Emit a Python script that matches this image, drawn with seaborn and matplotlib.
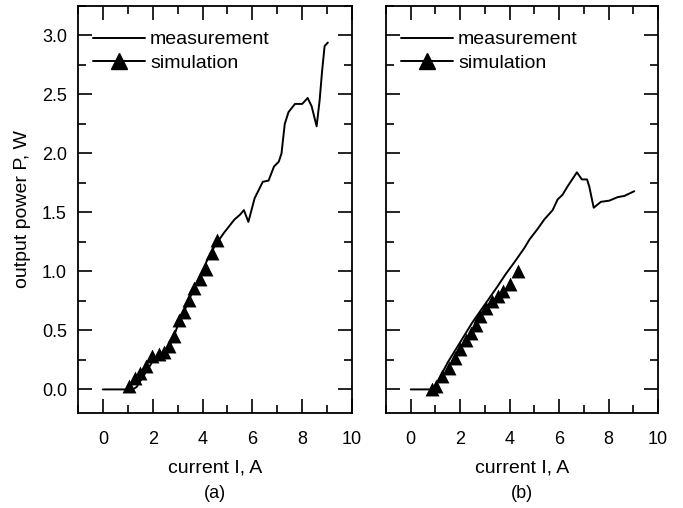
import matplotlib
matplotlib.use("Agg")
import matplotlib.pyplot as plt
from matplotlib.lines import Line2D
from matplotlib.ticker import MultipleLocator
import seaborn as sns
import pandas as pd

# panel (a) measurement
meas_a_I = [0.0, 1.2, 1.35, 1.5, 1.8, 2.0, 2.3, 2.6, 2.8, 3.0, 3.3, 3.6, 3.9, 4.2, 4.5,
            4.87, 5.28, 5.5, 5.66, 5.84, 6.09, 6.42, 6.65, 6.87, 7.06, 7.17, 7.3, 7.45,
            7.71, 8.0, 8.22, 8.38, 8.58, 8.7, 8.8, 8.9, 9.03]
meas_a_P = [0.0, 0.0, 0.02, 0.07, 0.17, 0.24, 0.30, 0.34, 0.42, 0.54, 0.68, 0.83, 0.97, 1.10, 1.22,
            1.33, 1.44, 1.48, 1.52, 1.42, 1.62, 1.76, 1.77, 1.89, 1.93, 2.00, 2.25, 2.35,
            2.42, 2.42, 2.47, 2.40, 2.23, 2.45, 2.70, 2.91, 2.94]
# panel (a) simulation
sim_a_I = [1.03, 1.30, 1.50, 1.74, 1.97, 2.24, 2.44, 2.65, 2.85, 3.05, 3.25, 3.45, 3.66,
           3.90, 4.13, 4.37, 4.57]
sim_a_P = [0.03, 0.10, 0.14, 0.20, 0.28, 0.30, 0.32, 0.37, 0.45, 0.59, 0.66, 0.76, 0.86,
           0.94, 1.02, 1.16, 1.27]

# panel (b) measurement
meas_b_I = [0.0, 0.85, 1.0, 1.5, 2.0, 2.5, 3.0, 3.5, 3.85, 4.2, 4.6, 4.8, 5.13, 5.4, 5.74,
            5.94, 6.14, 6.34, 6.72, 6.92, 7.13, 7.22, 7.4, 7.69, 8.03, 8.37, 8.64, 9.04]
meas_b_P = [0.0, 0.0, 0.03, 0.23, 0.40, 0.57, 0.72, 0.87, 0.98, 1.08, 1.20, 1.27, 1.36, 1.44, 1.52,
            1.61, 1.65, 1.72, 1.84, 1.78, 1.78, 1.72, 1.54, 1.59, 1.60, 1.63, 1.64, 1.68]
# panel (b) simulation
sim_b_I = [0.88, 1.01, 1.28, 1.55, 1.78, 2.00, 2.23, 2.43, 2.63, 2.81, 3.04, 3.27, 3.51,
           3.75, 4.02, 4.32]
sim_b_P = [0.0, 0.03, 0.11, 0.18, 0.27, 0.34, 0.42, 0.48, 0.55, 0.62, 0.69, 0.75, 0.79,
           0.83, 0.89, 1.00]

sns.set_style("ticks")
plt.rcParams["font.family"] = ["Liberation Sans", "DejaVu Sans"]
plt.rcParams["font.size"] = 13
plt.rcParams["text.color"] = "black"
plt.rcParams["axes.labelcolor"] = "black"
plt.rcParams["xtick.color"] = "black"
plt.rcParams["ytick.color"] = "black"

fig = plt.figure(figsize=(6.83, 5.08), dpi=100)
W, H = 683, 508
ax_a = fig.add_axes([78 / W, (H - 413) / H, (352 - 78) / W, (413 - 6) / H])
ax_b = fig.add_axes([386 / W, (H - 413) / H, (658 - 386) / W, (413 - 6) / H])

panels = [
    (ax_a, meas_a_I, meas_a_P, sim_a_I, sim_a_P, "(a)"),
    (ax_b, meas_b_I, meas_b_P, sim_b_I, sim_b_P, "(b)"),
]

for ax, mi, mp, si, sp, tag in panels:
    meas = pd.DataFrame({"I": mi, "P": mp})
    sim = pd.DataFrame({"I": si, "P": sp})
    sns.lineplot(data=meas, x="I", y="P", ax=ax, color="black", linewidth=1.4,
                 sort=False, estimator=None)
    sns.scatterplot(data=sim, x="I", y="P", ax=ax, color="black", marker="^",
                    s=100, edgecolor="black", linewidth=0, zorder=3)
    ax.set_xlim(-1, 10)
    ax.set_ylim(-0.2, 3.25)
    ax.xaxis.set_major_locator(MultipleLocator(2))
    ax.xaxis.set_minor_locator(MultipleLocator(1))
    ax.yaxis.set_major_locator(MultipleLocator(0.5))
    ax.yaxis.set_minor_locator(MultipleLocator(0.25))
    ax.yaxis.set_major_formatter(plt.FormatStrFormatter("%.1f"))
    ax.tick_params(which="both", direction="in", top=True, right=True,
                   width=1.2, labelsize=13, pad=8)
    ax.tick_params(axis="x", which="both", pad=13)
    ax.tick_params(which="major", length=10)
    ax.tick_params(which="minor", length=6)
    for s in ax.spines.values():
        s.set_linewidth(1.3)
        s.set_color("black")
    ax.set_xlabel("current I, A", fontsize=14, labelpad=8)
    ax.set_ylabel("")
    handles = [Line2D([], [], color="black", linewidth=1.4),
               Line2D([], [], color="black", linewidth=1.4, marker="^", markersize=11)]
    ax.legend(handles, ["measurement", "simulation"], loc="upper left",
              bbox_to_anchor=(0.0, 0.975), frameon=False,
              handlelength=2.7, handletextpad=0.25, fontsize=14, borderaxespad=0.35,
              labelspacing=0.3)
    cx = ax.get_position().x0 + ax.get_position().width / 2
    fig.text(cx, 1 - 493 / H, tag, ha="center", va="center", fontsize=13)

ax_a.set_ylabel("output power P, W", fontsize=14, labelpad=8)
ax_b.tick_params(labelleft=False)

fig.savefig("out.png", dpi=100)
